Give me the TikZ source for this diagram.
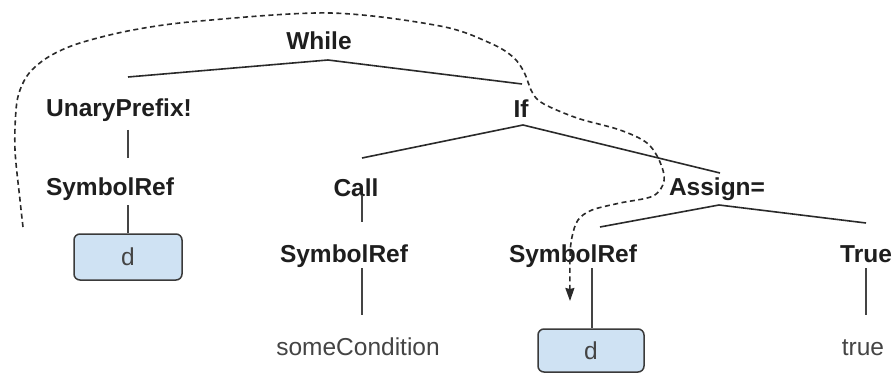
\documentclass[tikz,border=0pt]{standalone}
\usepackage{fontspec}
\setmainfont{Liberation Sans}
\usetikzlibrary{arrows.meta}
\definecolor{labelc}{HTML}{1E1E1E}
\definecolor{leafc}{HTML}{444444}
\definecolor{edgec}{HTML}{2A2A2A}
\definecolor{boxfill}{HTML}{CFE2F3}
\definecolor{boxline}{HTML}{3A3A3A}
\begin{document}
\begin{tikzpicture}[x=1pt,y=-1pt,
  lab/.style={anchor=base,inner sep=0pt,text=labelc,font=\fontsize{24.5}{29}\selectfont\bfseries},
  leaf/.style={anchor=base,inner sep=0pt,text=leafc,font=\fontsize{24.5}{29}\selectfont},
  dbox/.style={draw=boxline,line width=1.5pt,fill=boxfill,rounded corners=6pt,inner sep=0pt,
    text=leafc,font=\fontsize{24.5}{29}\selectfont},
  edge/.style={draw=edgec,line width=1.6pt},
  vedge/.style={draw=leafc,line width=1.5pt},
  flow/.style={draw=edgec,line width=1.6pt,dash pattern=on 5pt off 3.5pt,-{Stealth[length=13pt,width=9pt,inset=1pt]}}]
\useasboundingbox (0,0) rectangle (893,374);
\fill[white] (0,0) rectangle (893,374);

% labels
\node[lab] (While) at (319,50) {While};
\node[lab] (Unary) at (119,117) {UnaryPrefix!};
\node[lab] (Sym1) at (110,195) {SymbolRef};
\node[dbox,minimum width=108pt,minimum height=46pt] (d1) at (128,257) {d};
\node[lab] (If) at (521,118) {If};
\node[lab] (Call) at (356,196) {Call};
\node[lab] (Sym2) at (344,262) {SymbolRef};
\node[leaf] (cond) at (358,355) {someCondition};
\node[lab] (Assign) at (717,195) {Assign=};
\node[lab] (Sym3) at (573,262) {SymbolRef};
\node[dbox,minimum width=106pt,minimum height=43pt] (d2) at (591,350.5) {d};
\node[lab] (True) at (866,262) {True};
\node[leaf] (tru) at (863,355) {true};

% edge coordinates
\coordinate (w0) at (328,60);
\coordinate (wl) at (128,77);
\coordinate (wr) at (522,84);
\coordinate (u1) at (128,130);
\coordinate (u2) at (128,158);
\coordinate (s1) at (128,205);
\coordinate (i0) at (523,125);
\coordinate (il) at (362,158);
\coordinate (ir) at (720,173);
\coordinate (c1) at (362,195);
\coordinate (c2) at (362,222);
\coordinate (m1) at (362,268);
\coordinate (m2) at (362,315);
\coordinate (a0) at (719,205);
\coordinate (al) at (600,227);
\coordinate (ar) at (866,223);
\coordinate (r1) at (592,268);
\coordinate (t1) at (866,268);
\coordinate (t2) at (866,315);

\draw[edge] (wl) -- (w0) -- (wr);
\draw[vedge] (u1) -- (u2);
\draw[vedge] (s1) -- (d1.north);
\draw[edge] (il) -- (i0) -- (ir);
\draw[vedge] (c1) -- (c2);
\draw[vedge] (m1) -- (m2);
\draw[edge] (al) -- (a0) -- (ar);
\draw[vedge] (r1) -- (r1 |- d2.north);
\draw[vedge] (t1) -- (t2);

% dashed control-flow curve
\coordinate (fstart) at (23,227);
\coordinate (fend) at (570,301);
\draw[flow] plot[smooth,tension=0.55] coordinates {
  (fstart) (20,200) (15,150) (16,110) (20,90) (30,72) (50,56) (80,43) (133,30) (200,21)
  (330,13) (440,26) (490,43) (513,57) (524,72) (531,90) (538,100) (552,108) (580,119)
  (620,130) (647,143) (660,162) (664,181) (653,196) (620,203) (592,210) (578,220)
  (572,237) (570,257) (fend)};
\end{tikzpicture}
\end{document}
